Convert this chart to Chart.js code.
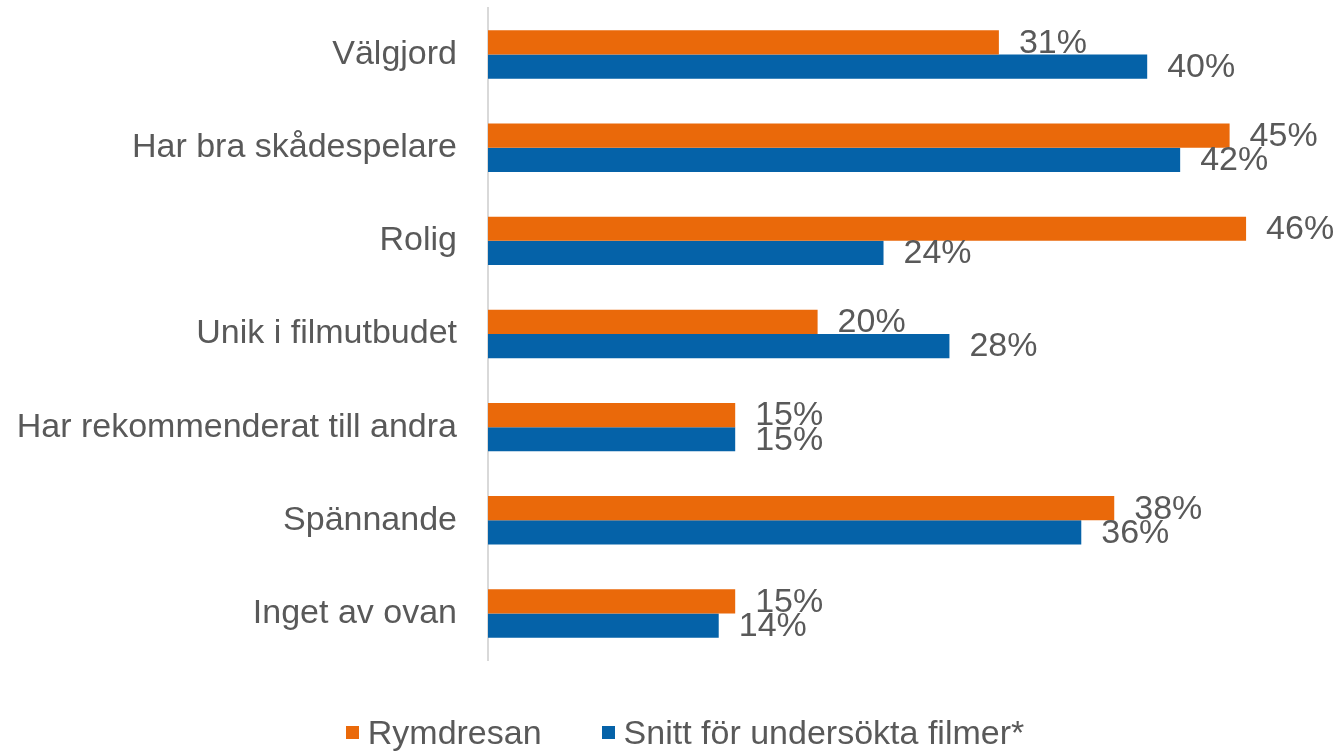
<!DOCTYPE html>
<html>
<head>
<meta charset="utf-8">
<script src="https://cdn.jsdelivr.net/npm/chart.js@4/dist/chart.umd.min.js"></script>
<style>
  html, body { margin: 0; padding: 0; background: #fff; }
  #wrap { position: relative; width: 1342px; height: 751px; }
  #legend { position: absolute; left: 14px; top: 713px; width: 1342px; display: flex; justify-content: center;
    font-family: "Liberation Sans", Arial, sans-serif; font-size: 34px; color: #595959; }
  #legend .item { display: flex; align-items: center; margin: 0 30px; }
  #legend .box { width: 13px; height: 13px; margin-right: 9px; }
</style>
</head>
<body>
<div id="wrap">
  <canvas id="chart" width="1342" height="751"></canvas>
  <div id="legend"></div>
</div>
<script>
const categories = ['Välgjord', 'Har bra skådespelare', 'Rolig', 'Unik i filmutbudet',
  'Har rekommenderat till andra', 'Spännande', 'Inget av ovan'];
const seriesNames = ['Rymdresan', 'Snitt för undersökta filmer*'];
const rymdresan = [31, 45, 46, 20, 15, 38, 15];
const snitt = [40, 42, 24, 28, 15, 36, 14];
const colors = ['#EA690A', '#0562A8'];
const TEXT = '#595959';
const FONT = '"Liberation Sans", Arial, sans-serif';

// draws the value labels just right of each bar
const valueLabels = {
  id: 'valueLabels',
  afterDatasetsDraw(chart) {
    const ctx = chart.ctx;
    ctx.save();
    ctx.font = '34px ' + FONT;
    ctx.fillStyle = TEXT;
    ctx.textAlign = 'left';
    ctx.textBaseline = 'middle';
    chart.data.datasets.forEach((ds, i) => {
      chart.getDatasetMeta(i).data.forEach((bar, j) => {
        ctx.fillText(ds.data[j] + '%', bar.x + 20, bar.y + 1);
      });
    });
    ctx.restore();
  }
};

new Chart('chart', {
  type: 'bar',
  data: {
    labels: categories,
    datasets: [
      { label: seriesNames[0], data: rymdresan, backgroundColor: colors[0] },
      { label: seriesNames[1], data: snitt, backgroundColor: colors[1] }
    ]
  },
  options: {
    indexAxis: 'y',
    responsive: false,
    animation: false,
    devicePixelRatio: 1,
    datasets: { bar: { barPercentage: 1, categoryPercentage: 0.52 } },
    layout: { padding: { top: 8, right: 30, bottom: 91, left: 0 } },
    plugins: {
      legend: { display: false },
      tooltip: { enabled: false }
    },
    scales: {
      x: { display: false, min: 0, max: 50 },
      y: {
        grid: { display: false, drawTicks: false },
        border: { display: true, color: '#D9D9D9', width: 2 },
        ticks: { color: TEXT, font: { family: FONT, size: 34 }, padding: 31 },
        afterFit(scale) {
          scale.width = 488;
          // tick padding would otherwise push the plot area down
          scale.paddingTop = 0;
          scale.paddingBottom = 0;
        }
      }
    }
  },
  plugins: [valueLabels]
});

const legend = document.getElementById('legend');
seriesNames.forEach((name, i) => {
  const item = document.createElement('div');
  item.className = 'item';
  item.innerHTML = '<span class="box" style="background:' + colors[i] + '"></span><span>' + name + '</span>';
  legend.appendChild(item);
});
</script>
</body>
</html>
